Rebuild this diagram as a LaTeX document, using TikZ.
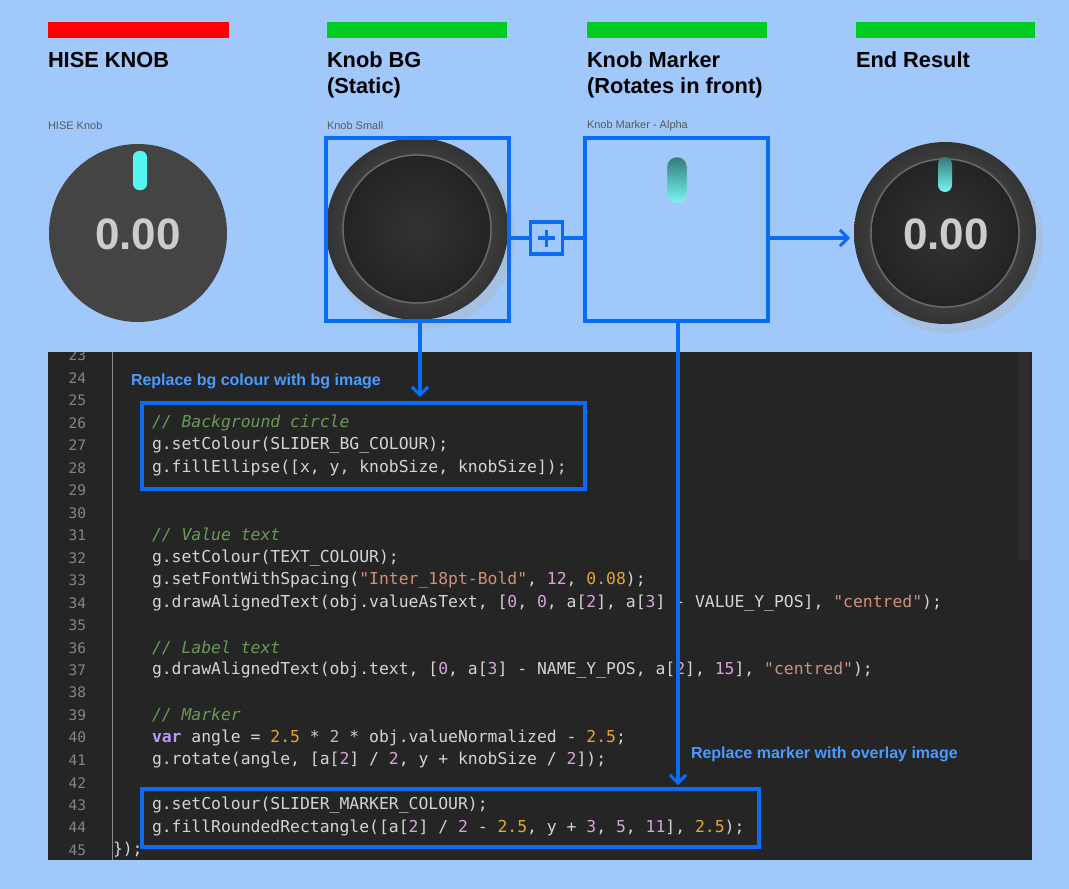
\documentclass[tikz,border=0pt]{standalone}
\usepackage{fontspec}
\setmainfont{Liberation Sans}
\setmonofont{DejaVu Sans Mono}
\usetikzlibrary{arrows.meta}
\definecolor{bgblue}{HTML}{A0C8FB}
\definecolor{lblue}{HTML}{0A6CF5}
\definecolor{annot}{HTML}{4A9BFF}
\definecolor{panel}{HTML}{252526}
\definecolor{codefg}{HTML}{D4D4D4}
\definecolor{lnum}{HTML}{858585}
\definecolor{cmt}{HTML}{6A9955}
\definecolor{strc}{HTML}{CE9178}
\definecolor{intc}{HTML}{D7A3D8}
\definecolor{fltc}{HTML}{E5A82C}
\definecolor{kwc}{HTML}{B79CF5}
\definecolor{redbar}{HTML}{FF0000}
\definecolor{greenbar}{HTML}{00CC22}
\definecolor{knobgray}{HTML}{444444}
\definecolor{cyanm}{HTML}{55F5F0}
\newcommand\cmtx[1]{\textcolor{cmt}{\itshape #1}}
\newcommand\stx[1]{\textcolor{strc}{#1}}
\newcommand\inx[1]{\textcolor{intc}{#1}}
\newcommand\flx[1]{\textcolor{fltc}{#1}}
\newcommand\kwx[1]{\textcolor{kwc}{\bfseries #1}}
\tikzset{
  every node/.style={inner sep=0pt, outer sep=0pt},
  head/.style={anchor=north west, font=\fontsize{21.8}{25.5}\selectfont\bfseries, align=left},
  small/.style={anchor=west, font=\fontsize{11}{12}\selectfont, text=black!65},
  frame/.style={draw=lblue, line width=3.4pt},
  conn/.style={draw=lblue, line width=3.2pt},
  arr/.style={conn, -{Straight Barb[length=8pt,width=16pt,line width=3pt]}},
  code/.style={anchor=west, font=\fontsize{16.4}{16}\ttfamily, text=codefg},
  ln/.style={anchor=east, font=\fontsize{14.5}{15}\ttfamily, text=lnum},
  annotx/.style={anchor=west, font=\fontsize{16}{18}\selectfont\bfseries, text=annot},
  val/.style={font=\fontsize{44}{44}\selectfont\bfseries, text=black!20},
}
\begin{document}
\begin{tikzpicture}[x=1pt,y=-1pt]
\fill[bgblue] (0,0) rectangle (1069,889);
\useasboundingbox (0,0) rectangle (1069,889);
% bars
\fill[redbar] (48,22) rectangle (229,38);
\fill[greenbar] (327,22) rectangle (507,38);
\fill[greenbar] (587,22) rectangle (767,38);
\fill[greenbar] (856,22) rectangle (1035,38);
\node[head] (h1) at (48,52) {HISE KNOB};
\node[head] (h2) at (327,52) {Knob BG\\(Static)};
\node[head] (h3) at (587,52) {Knob Marker\\(Rotates in front)};
\node[head] (h4) at (856,52) {End Result};
\node[small] (s1) at (48,126) {HISE Knob};
\node[small] (s2) at (327,126) {Knob Small};
\node[small] (s3) at (587,126) {Knob Marker - Alpha};
% HISE knob
\fill[knobgray] (138,233) circle (89);
\fill[cyanm, rounded corners=6pt] (133,151) rectangle (147,190);
\node[val] (v1) at (138,234) {0.00};
% Knob BG
\fill[black!30, opacity=0.35] (422,236) circle (93);
\shade[inner color=black!62, outer color=black!80] (417,229) circle (91);
\fill[black!75] (417,229) circle (76);
\draw[black!58, line width=1.4pt] (417,229) circle (74);
\shade[inner color=black!80, outer color=black!86] (417,229) circle (73);
\node[frame, minimum width=183pt, minimum height=183pt] (bg) at (417.5,229.5) {};
% plus
\node[frame, minimum width=32pt, minimum height=32pt] (plus) at (546.5,238) {};
\draw[lblue, line width=3.2pt] (538,238) -- (555,238) (546.5,229.5) -- (546.5,246.5);
% marker box
\node[frame, minimum width=183pt, minimum height=183pt] (mk) at (676.5,229.5) {};
\shade[top color=teal!70!black!80, bottom color=cyanm!80, rounded corners=9.5pt, draw=black!20] (667,157) rectangle (687,203);
\draw[conn] (bg.east |- plus.west) -- (plus.west);
\draw[conn] (plus.east) -- (plus.east -| mk.west);
\coordinate (endtip) at (850,238);
\draw[arr] (mk.east |- endtip) -- (endtip);
% End result knob
\fill[black!30, opacity=0.35] (950,240) circle (93);
\shade[inner color=black!62, outer color=black!80] (945,233) circle (91);
\fill[black!75] (945,233) circle (76);
\draw[black!58, line width=1.4pt] (945,233) circle (74);
\shade[inner color=black!80, outer color=black!86] (945,233) circle (73);
\shade[top color=teal!70!black!80, bottom color=cyanm!80, rounded corners=7pt] (938,157) rectangle (952,192);
\node[val] (v2) at (946,234) {0.00};
% code panel
\begin{scope}
\clip (48,352) rectangle (1032,860);
\fill[panel] (48,352) rectangle (1032,860);
\draw[black!45, line width=0.6pt] (112,352) -- (112,860);
\fill[white, opacity=0.04] (1018,352) rectangle (1030,560);
\foreach \n [count=\i from 0] in {23,...,45} {
  \node[ln] at (86,{355.5+\i*22.48}) {\n};
}
\end{scope}
\newcommand\yl[1]{{378+(#1-24)*22.48}}
\node[code] at (152,\yl{26}) {\cmtx{// Background circle}};
\node[code] at (152,\yl{27}) {g.setColour(SLIDER\_BG\_COLOUR);};
\node[code] at (152,\yl{28}) {g.fillEllipse([x, y, knobSize, knobSize]);};
\node[code] at (152,\yl{31}) {\cmtx{// Value text}};
\node[code] at (152,\yl{32}) {g.setColour(TEXT\_COLOUR);};
\node[code] at (152,\yl{33}) {g.setFontWithSpacing(\stx{"Inter\_18pt-Bold"}, \inx{12}, \flx{0.08});};
\node[code] at (152,\yl{34}) {g.drawAlignedText(obj.valueAsText, [\inx{0}, \inx{0}, a[\inx{2}], a[\inx{3}] - VALUE\_Y\_POS], \stx{"centred"});};
\node[code] at (152,\yl{36}) {\cmtx{// Label text}};
\node[code] at (152,\yl{37}) {g.drawAlignedText(obj.text, [\inx{0}, a[\inx{3}] - NAME\_Y\_POS, a[\inx{2}], \inx{15}], \stx{"centred"});};
\node[code] at (152,\yl{39}) {\cmtx{// Marker}};
\node[code] at (152,\yl{40}) {\kwx{var} angle = \flx{2.5} * \inx{2} * obj.valueNormalized - \flx{2.5};};
\node[code] at (152,\yl{41}) {g.rotate(angle, [a[\inx{2}] / \inx{2}, y + knobSize / \inx{2}]);};
\node[code] at (152,\yl{43}) {g.setColour(SLIDER\_MARKER\_COLOUR);};
\node[code] at (152,\yl{44}) {g.fillRoundedRectangle([a[\inx{2}] / \inx{2} - \flx{2.5}, y + \inx{3}, \inx{5}, \inx{11}], \flx{2.5});};
\node[code] at (113,\yl{45}) {\});};
% annotations
\node[annotx] (a1) at (131,381) {Replace bg colour with bg image};
\node[annotx] (a2) at (691,754) {Replace marker with overlay image};
\node[frame, minimum width=443pt, minimum height=86pt, anchor=north west] (cb1) at (142,403) {};
\node[frame, minimum width=617pt, minimum height=58pt, anchor=north west] (cb2) at (142,789) {};
\coordinate (t1) at (420,397);
\coordinate (t2) at (678,785);
\draw[arr] (bg.south -| t1) -- (t1);
\draw[arr] (mk.south -| t2) -- (t2);
\end{tikzpicture}
\end{document}
